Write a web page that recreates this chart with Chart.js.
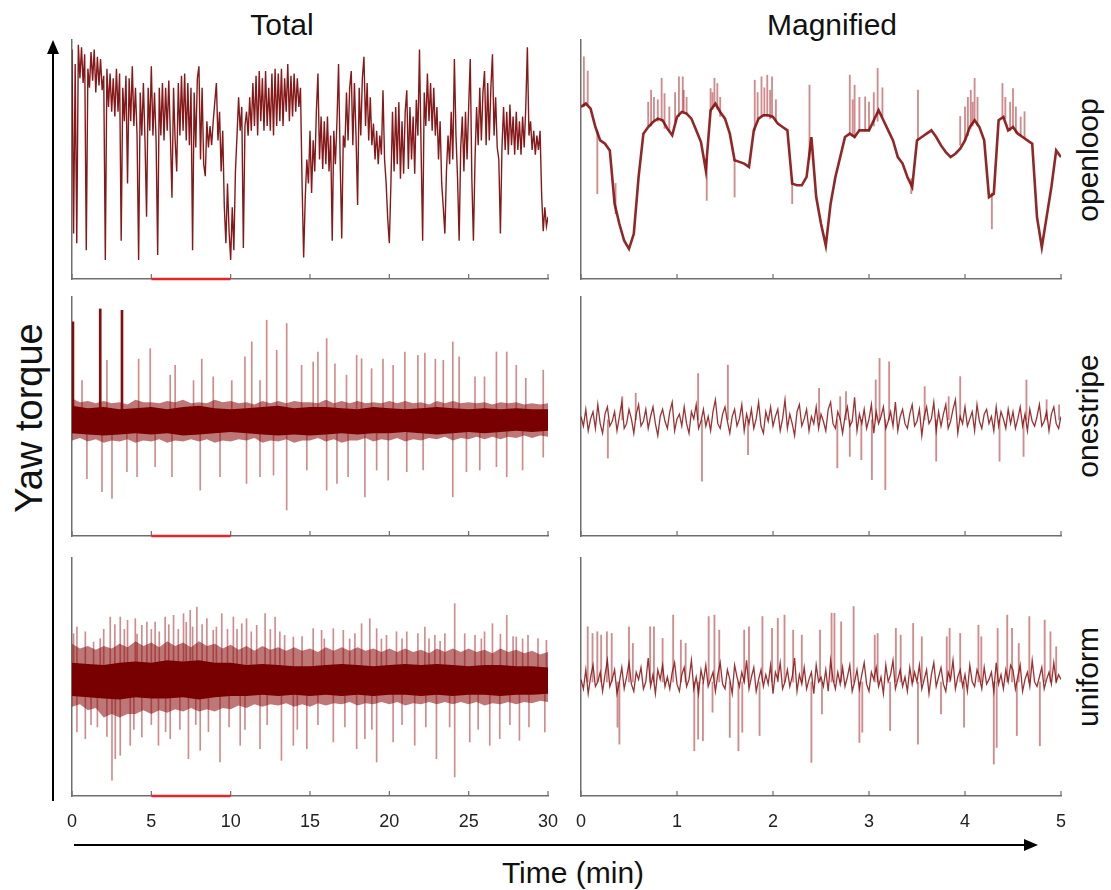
<!DOCTYPE html>
<html>
<head>
<meta charset="utf-8">
<script src="https://cdn.jsdelivr.net/npm/chart.js@4.4.1/dist/chart.umd.min.js"></script>
<style>
  body { margin: 0; background: #fff; font-family: 'Liberation Sans', Arial, sans-serif; }
  #page { position: relative; width: 1111px; height: 890px; overflow: hidden; background: #fff; }
  .lbl { position: absolute; color: #111; white-space: nowrap; line-height: 1; }
  .mid { transform: translate(-50%, -50%); }
  .rot { transform: translate(-50%, -50%) rotate(-90deg); }
</style>
</head>
<body>
<div id="page">
  <div class="lbl mid" style="left:282px;top:25px;font-size:30px">Total</div>
  <div class="lbl mid" style="left:832px;top:25px;font-size:30px">Magnified</div>
  <div class="lbl rot" style="left:1088px;top:160px;font-size:30px">openloop</div>
  <div class="lbl rot" style="left:1088px;top:416px;font-size:30px">onestripe</div>
  <div class="lbl rot" style="left:1088px;top:677px;font-size:30px">uniform</div>
  <div class="lbl rot" style="left:29px;top:418px;font-size:38px">Yaw torque</div>
  <div class="lbl mid" style="left:573px;top:873px;font-size:30px">Time (min)</div>
  <!-- axis arrows -->
  <div style="position:absolute;left:52px;top:52px;width:2px;height:749px;background:#000"></div>
  <div style="position:absolute;left:47px;top:40px;width:0;height:0;border-left:6px solid transparent;border-right:6px solid transparent;border-bottom:14px solid #000"></div>
  <div style="position:absolute;left:74px;top:844px;width:952px;height:2px;background:#000"></div>
  <div style="position:absolute;left:1024px;top:839px;width:0;height:0;border-top:6px solid transparent;border-bottom:6px solid transparent;border-left:14px solid #000"></div>
</div>
<script>
// ---- data (y in % of panel height, x in minutes) ----
const totalMax = 30, totalStep = 5;
const magMax = 5, magStep = 1;
const magnifiedWindow = [5, 10];

// openloop, total: samples every 0.1 min
const openTotalDt = 0.1;
const openTotalV = [
  96,19,90,15,98,84,97,82,94,12,
  88,80,95,83,96,78,93,81,92,79,
  85,8,88,72,86,70,84,68,88,70,
  86,16,80,66,85,40,84,66,89,64,
  80,60,8,78,60,82,58,26,80,62,
  89,60,78,58,10,80,60,82,58,80,
  62,83,60,34,80,58,45,82,60,85,
  62,86,58,82,56,80,12,78,55,84,
  89,50,80,48,43,66,55,64,56,66,
  74,82,58,70,45,62,30,15,40,20,
  8,30,12,45,60,76,62,72,13,64,
  70,60,76,62,82,64,85,60,87,66,
  84,62,87,64,80,62,86,60,88,64,
  86,66,88,64,84,70,90,66,85,68,
  86,70,84,72,80,40,9,34,50,40,
  62,36,58,45,70,86,50,68,46,66,
  48,68,45,60,16,62,48,66,90,50,
  17,60,55,78,58,80,87,56,82,60,
  31,80,60,84,93,64,82,58,76,56,
  65,50,62,48,60,52,79,50,40,25,
  15,40,70,45,72,48,74,42,66,44,
  70,79,46,72,50,68,44,75,60,96,
  55,16,78,64,86,66,82,62,80,60,
  72,50,66,40,30,19,45,60,48,70,
  50,92,60,42,16,55,68,45,70,50,
  72,92,42,16,50,72,56,80,58,78,
  87,56,82,58,80,94,60,76,55,50,
  19,55,72,54,70,52,73,56,68,52,
  70,54,66,52,68,55,72,97,60,66,
  54,62,52,60,54,62,35,20,30,22,
  26
];

// openloop, magnified: core trace every 0.05 min, spikes [t, lo, hi]
const openMagDt = 0.05;
const openMagV = [
  72,73.4,71.3,63.6,58,56.6,53.8,31.5,23,16,
  12.6,18.9,42.7,60.8,63.6,65.7,67.1,66.4,62.9,60.1,
  67.8,69.9,69.2,67.1,62.2,57.3,45.5,70.6,73.4,69.9,
  67.1,60.8,49.7,49,48.3,46.9,62.2,67.1,68.5,68.5,
  67.8,65,63.6,62.2,39.9,39.2,39.2,42.7,59.4,34.3,
  23.1,14,31.5,42.7,51,59.4,60.8,59.4,62.2,62.2,
  62.2,66.4,70.6,66.4,62.2,58,51,48.3,42.7,38.5,
  58,59.4,60.8,62.2,59.4,55.9,53.1,51,52.4,54.5,
  58,63.6,66.4,63.6,58,34.3,35.7,66.4,67.8,62.2,
  63.6,60.8,59.4,58,56.6,25.9,13.3,25.9,38.5,53.8,
  51
];
const openMagSpikes = [
  [0.03,72,93],[0.07,73,87],[0.73,64,79],[0.76,66,76],[0.84,66,84],[0.87,63,77.6],
  [1.02,68,84.6],[1.06,70,84.6],[1.07,70,79],[1.35,70,79.7],[1.39,72,84],[1.42,71,81.8],
  [1.81,62,83.2],[1.88,68,84.6],[1.94,68,85.3],[1.99,68,84.6],[2.38,50,81.1],[2.80,61,85.3],
  [2.85,59,81.1],[2.96,62,76.2],[3.09,66,88.1],[3.51,58,79],[4.03,60,76],[4.06,63,79],
  [4.10,66,84],[4.39,67,81.8],[4.50,63,79.7],[4.58,60,67.8],
  [0.70,64,74],[0.80,66,75],[0.92,62,72],[0.98,66,78],[1.10,69,76],[1.37,71,78],[1.45,68,76],
  [1.84,66,78],[1.91,68,80],[1.97,67,79],[2.03,66,75],[2.83,60,75],[2.90,62,76],[3.00,62,74],
  [3.05,64,78],[3.14,68,80],[3.95,56,68],[4.00,58,72],[4.08,64,74],[4.13,64,76],[4.42,67,76],
  [4.47,62,74],[4.53,61,72],[4.62,59,70],
  [0.17,35.7,62],[0.36,27.3,40],[1.31,32.9,50],[1.60,34.3,50],[2.20,31.5,42],[3.44,35.7,42],[4.28,21,36]
];

// onestripe, total: dark core edges every minute, fringe edges every 0.5 min, spikes [t, tip]
const osTotalBase = 48.5;
const osInnerHi = [54.5,53.5,54,53,53.5,54,53,54,54.5,53.5,53,53.5,54,54.5,53.5,54,54,53.5,53,54,53.5,53,53.5,54,53.5,53,53.5,53,53.5,53,53];
const osInnerLo = [43,42.5,42,42.5,43,42.5,43,42,42.5,43,43.5,43,42.5,42,42.5,42,42.5,43,42.5,43,43,43.5,43,42.5,43,43.5,43,43.5,44,43.5,44];
const osOuterHi = [57.5,56,56.5,55.5,56.5,55.5,56,55,57,56,56,55.5,56.5,56,57,55.5,56,55.5,57,56,56.5,55.5,56,55,56.5,55.5,56.5,55.5,56.5,56,
  56,55.5,57,55.5,56.5,55.5,56.5,55.5,56,55.5,56.5,55.5,56.5,55.5,56,55,56.5,55.5,56.5,55.5,56,55.5,56,55,56,55.5,56,55,55.5,55,55.5];
const osOuterLo = [40,41,39.5,40.5,39,40,39.5,40.5,39,40,39.5,40.5,39,40,39.5,40.5,39.5,40.5,39,40,39.5,40.5,40,41,39,40,39.5,40.5,39,40,
  40,41,39.5,40.5,39,40,40,41,39.5,40.5,40,41,39.5,40.5,40,41,40.5,41.5,40,41,40.5,41.5,40.5,41.5,40.5,41.5,41,42,41,42,41.5];
const osTotalStrong = [[0.06,89.6],[1.78,95],[3.15,94.4]];
const osTotalUp = [
  [0.63,65],[2.2,73.5],[4.2,74],[4.93,78.4],[6.19,67.3],[6.5,71.4],[7.66,65],[8.18,74],[8.9,66.6],
  [10.07,65],[10.9,75],[11.33,81.2],[11.85,65],[12.27,90.3],[12.9,77.7],[13.53,88.9],[14.47,71.4],
  [15.2,72.8],[15.5,77],[16.05,82.6],[16.57,72],[17.3,67.3],[17.94,75.6],[18.25,74.2],[18.88,70],
  [19.6,74],[20.24,71.4],[20.98,77],[21.8,75.6],[22.24,76.5],[22.9,74],[23.4,73.5],[24,81.2],
  [24.4,75],[25.4,66.6],[26,66.6],[26.75,77],[27.4,77],[28,71.4],[28.6,66],[29.7,69.4]
];
const osTotalDown = [
  [0.94,24],[1.89,18.5],[2.52,15.7],[3.46,26.9],[4.1,24.8],[5.24,29],[6.3,24.8],[8.08,19.2],
  [9.33,24.8],[11,22],[11.85,24.8],[12.7,25.5],[13.53,10.9],[14.8,27.6],[16.05,19.2],[16.7,22],
  [17.4,24.8],[18.46,16.4],[19.2,27.6],[19.93,23.4],[21.1,26.9],[22.13,27.6],[24,16.4],[24.86,26.9],
  [25.7,27.6],[26.75,29],[27.4,24.8],[28.4,27.6],[29.7,33]
];

// onestripe, magnified: trace every 0.025 min
const osMagDt = 0.025;
const osMagBase = 48.6;
const osMagV = [
  50,46,53,44,49,52,45,55,47,43, 51,54,46,48,52,44,50,56,45,47,
  53,49,43,51,55,46,48,53,45,50, 54,47,42,50,53,48,45,52,56,44,
  49,51,46,54,47,43,52,49,55,45, 48,53,46,50,44,52,57,47,45,51,
  54,48,43,50,53,46,49,55,44,51, 47,53,45,49,56,46,43,52,48,54,
  46,50,53,44,49,57,45,51,47,42, 52,55,46,49,53,44,50,47,54,45,
  51,48,44,53,56,47,45,52,49,43, 50,54,46,48,58,44,51,47,53,45,
  49,55,43,52,47,50,54,45,48,52, 46,56,44,50,53,47,45,51,55,46,
  48,53,42,50,54,47,49,56,44,52, 46,51,55,45,48,53,57,43,50,47,
  54,46,49,52,44,55,48,45,51,53, 47,50,44,54,46,52,49,45,53,47,
  52,45,49,54,46,51,44,53,48,46,
  50,55,46,48,52,44,51,54,47,45, 50
];
const osMagUp = [[0.43,58.3],[0.57,59.7],[1.22,68],[1.53,71.5],[2.48,61.8],[2.7,58.3],[2.76,60.4],[3.07,65.3],
  [3.11,74.3],[3.21,72.9],[3.58,62.5],[3.83,58.3],[3.95,66.7],[4.64,65.3],[4.85,57],[4.98,54.9]];
const osMagDown = [[0.28,32.6],[1.26,22.9],[1.74,34],[2.67,28.5],[2.8,33.3],[2.92,31.9],[3.03,23.6],
  [3.17,19.4],[3.7,31.3],[4.36,31.3],[4.61,33.3]];

// uniform, total
const ufTotalBase = 48.5;
const ufInnerHi = [56,55.5,55,56,56.5,56,57,56.5,57,56,56,55,55.5,55,54.5,54.5,55,55.5,55,54.5,55,55.5,55,55.5,55,54.5,55,55,54.5,54.5,54];
const ufInnerLo = [42,41.5,41,40.5,41.5,41,41,41.5,40.5,41.5,42,42,42.5,42,42.5,42,42.5,42,42.5,42,42.5,42.5,42,42.5,42,42.5,42.5,42,42.5,42.5,43];
const ufOuterHi = [64,62,63,61.5,63,62,64,62.5,65,63,64.5,62.5,65,63,64.5,62.5,65,63,64,62,63.5,61.5,63,61,63,61.5,62.5,61,62.5,61,
  62,60.5,62.5,61,62.5,61,62.5,61,62,60.5,62,60.5,62,60.5,61.5,60,62,60.5,62,60.5,62,60.5,61.5,60,62,60.5,61.5,60,61,59.5,60.5];
const ufOuterLo = [37.5,38.5,36,37,33,34.5,33,34.5,34.5,36,34.5,36,35,36.5,35.5,37,35.5,36.5,35.5,37,36.5,38,37,38.5,37.5,38.5,38,39,37.5,38.5,
  37.5,39,38,39,38.5,39.5,38,39,38.5,39.5,38.5,39.5,38,39,38.5,39.5,38.5,39.5,38.5,39.5,38.5,39.5,38,39,38.5,39.5,38.5,39.5,39,40,39.5];
const ufTotalUp = [
  [0.1,68.2],[0.31,71],[0.84,69],[1.36,64.7],[1.78,66.1],[2.0,70],[2.41,75.2],[2.7,72],[3.04,75.2],
  [3.3,70],[3.5,73.8],[3.99,74.5],[4.1,68],[4.4,71.7],[4.72,73.1],[5.0,70],[5.24,73.1],[5.5,69],
  [5.87,75.2],[6.1,72],[6.4,75.9],[6.7,70],[7.03,76.6],[7.2,73],[7.45,78],[7.6,71],[7.87,79.4],
  [8.2,72],[8.5,74.5],[8.9,69.6],[9.1,71],[9.44,76.6],[9.8,70],[10.17,75.2],[10.4,70],[10.7,72.4],
  [11,74.5],[11.3,69],[11.64,71.7],[12.17,76.6],[12.5,70],[12.8,75.2],[13.1,69],[13.4,67.5],
  [13.95,66.8],[14.5,67],[15.2,70.3],[15.73,69.6],[15.9,66],[16.47,70.3],[17.1,69.6],[17.5,66],
  [17.83,68.2],[18.25,72.4],[18.77,74.5],[19.2,70.3],[19.5,66],[19.82,67.5],[20.45,69],[20.8,66],
  [21.1,69],[21.8,68.2],[22.24,71],[22.5,66],[22.87,67.5],[23.2,65],[23.5,68.2],[24.12,80.8],
  [24.75,68.2],[25.4,67.5],[25.8,66],[26,69],[26.5,72.4],[27,68],[27.4,75.9],[27.8,67],[28,66.8],
  [28.4,66],[28.74,67.5],[29.37,66.1],[29.9,65.4]
];
const ufTotalDown = [
  [0.31,26.9],[0.84,24.1],[1.2,30],[1.6,29],[2.2,25],[2.52,6.6],[2.73,15.7],[3.04,17.1],[3.67,21.3],
  [3.9,28],[4.4,24.8],[5.0,30],[5.45,21.3],[5.9,27],[6.19,24.1],[6.8,28],[7.34,15.7],[7.8,30],
  [8.08,19.2],[8.6,27],[9.33,14.3],[9.9,29],[10.6,21.3],[10.9,28],[11.85,19.9],[12.3,30],[13.2,15],
  [13.95,21.3],[14.2,28],[14.8,19.9],[15.5,30],[16.47,22.7],[17.2,29],[17.94,19.9],[18.46,24.1],
  [18.9,28],[19.2,14.3],[20.24,22.7],[20.8,30],[21.6,21.3],[22.3,29],[22.97,15.7],[23.8,29],
  [24.12,8],[25.07,22.7],[25.6,28],[26.33,21.3],[26.96,24.1],[27.6,30],[28.2,23.4],[28.8,29],[29.8,26.9]
];

// uniform, magnified: trace every 0.025 min
const ufMagDt = 0.025;
const ufMagBase = 47.9;
const ufMagV = [
  49,45,53,43,50,55,46,48,52,44, 51,57,46,49,53,43,48,54,45,50,
  56,47,44,52,49,54,45,48,58,46, 51,43,53,49,55,46,50,45,52,56,
  47,44,51,54,46,49,57,45,50,43, 53,48,55,46,49,52,44,51,56,47,
  45,53,49,43,55,50,46,52,48,57, 45,50,54,44,49,53,46,51,47,55,
  43,52,49,56,45,48,53,46,50,58, 44,51,47,54,45,49,52,43,55,48,
  50,46,53,44,57,49,45,52,47,54, 46,50,55,44,48,53,45,51,56,47,
  44,52,49,54,46,50,43,55,48,51, 57,45,49,53,46,50,44,54,47,52,
  48,55,45,49,53,43,51,56,46,50, 54,47,44,52,49,57,45,50,53,46,
  51,44,55,48,46,53,50,45,54,47, 49,52,44,56,47,51,45,53,48,55,
  53,45,50,55,44,49,52,46,57,48,
  46,50,54,45,49,52,47,56,48,51, 49
];
const ufMagUp = [
  [0.07,71.1],[0.12,68.3],[0.17,69],[0.21,67.6],[0.27,69],[0.32,68.3],[0.5,71.1],[0.54,64.1],
  [0.72,71.1],[0.76,71.1],[0.85,66.2],[0.96,76],[1.04,65.5],[1.09,64.1],[1.33,75.4],[1.39,76],
  [1.44,69.7],[1.7,69.7],[1.75,71.1],[1.89,75.4],[1.99,70.4],[2.05,74.6],[2.12,76],[2.21,69.7],
  [2.3,67.6],[2.49,69.7],[2.61,76.8],[2.64,76.8],[2.71,73.2],[2.84,79.6],[3.06,67.6],[3.09,68.3],
  [3.28,70.4],[3.33,67.6],[3.46,72.5],[3.55,66.9],[3.81,66.9],[3.84,70.4],[3.95,68.3],[4.14,71.8],
  [4.17,66.9],[4.34,70.4],[4.44,76],[4.49,70.4],[4.56,64.1],[4.67,75.4],[4.83,73.9],[4.89,69],[4.95,62.7]
];
const ufMagDown = [
  [0.38,28.9],[0.4,21.8],[1.18,19],[1.22,23.9],[1.27,23.2],[1.37,35.2],[1.55,24.6],[1.64,19],
  [1.68,26.8],[1.86,25.4],[2.4,14.1],[2.51,34.5],[2.9,22.5],[2.93,26.8],[3.22,27.5],[3.51,21.8],
  [3.75,34.5],[3.99,28.9],[4.3,13.4],[4.33,20.4],[4.54,25.4],[4.78,21.1]
];

// ---- drawing ----
const DARK = '#780000';
const TRACE = 'rgba(120,0,0,0.9)';
const FRINGE = 'rgba(135,8,8,0.55)';
const SPIKE = 'rgba(170,45,45,0.55)';
const MAGTRACE = 'rgba(135,15,15,0.85)';
const AXIS = '#6e6e6e';

const series = (vals, dt) => vals.map((v, i) => ({ x: i * dt, y: v }));
const spikeBars = (list, base) => list.map(s => ({ x: s[0], y: [Math.min(base, s[1]), Math.max(base, s[1])] }));
const rangeBars = list => list.map(s => ({ x: s[0], y: [s[1], s[2]] }));

function traceSet(data, color, width, order) {
  return { type: 'line', data, borderColor: color, borderWidth: width, pointRadius: 0, tension: 0, fill: false, order };
}
function bandSets(hi, lo, dt, color, order) {
  return [
    { type: 'line', data: series(hi, dt), borderWidth: 0, pointRadius: 0, fill: '+1', backgroundColor: color, order },
    { type: 'line', data: series(lo, dt), borderWidth: 0, pointRadius: 0, fill: false, order }
  ];
}
function barSet(data, color, thick, order) {
  return { type: 'bar', data, backgroundColor: color, borderWidth: 0, barThickness: thick, grouped: false, order };
}

const axisDeco = {
  id: 'axisDeco',
  afterDraw(chart, args, opts) {
    const { ctx, chartArea, scales: { x } } = chart;
    ctx.save();
    ctx.strokeStyle = AXIS;
    ctx.lineWidth = 1.2;
    x.ticks.forEach(t => {
      const px = x.getPixelForValue(t.value);
      ctx.beginPath();
      ctx.moveTo(px, chartArea.bottom);
      ctx.lineTo(px, chartArea.bottom - 5);
      ctx.stroke();
    });
    if (opts.window) {
      ctx.strokeStyle = '#e3262c';
      ctx.lineWidth = 2.5;
      ctx.beginPath();
      ctx.moveTo(x.getPixelForValue(opts.window[0]), chartArea.bottom);
      ctx.lineTo(x.getPixelForValue(opts.window[1]), chartArea.bottom);
      ctx.stroke();
    }
    ctx.restore();
  }
};

const page = document.getElementById('page');
function panel(box, xMax, step, showLabels, datasets, win) {
  const hx = showLabels ? 44 : 14;
  const w = box.r - box.l + 24, h = box.b - box.t + 2 + hx;
  const cv = document.createElement('canvas');
  cv.width = w; cv.height = h;
  cv.style.cssText = `position:absolute;left:${box.l - 12}px;top:${box.t - 2}px;width:${w}px;height:${h}px`;
  page.appendChild(cv);
  return new Chart(cv, {
    type: 'line',
    data: { datasets },
    options: {
      responsive: false,
      animation: false,
      events: [],
      layout: { padding: { left: 10, right: 12, top: 2, bottom: 0 } },
      plugins: { legend: { display: false }, tooltip: { enabled: false }, axisDeco: { window: win } },
      scales: {
        x: {
          type: 'linear', min: 0, max: xMax, offset: false,
          ticks: { stepSize: step, display: showLabels, autoSkip: false, maxRotation: 0, padding: 15,
                   color: '#222', font: { size: 18, family: "'Liberation Sans', Arial, sans-serif" },
                   callback: v => String(v) },
          grid: { display: false, drawTicks: false },
          border: { display: true, color: AXIS, width: 1.5 },
          afterFit: s => { s.height = hx; s.paddingLeft = 0; s.paddingRight = 0; }
        },
        y: {
          min: 0, max: 100,
          ticks: { display: false },
          grid: { display: false, drawTicks: false },
          border: { display: true, color: AXIS, width: 1.5 },
          afterFit: s => { s.width = 2; }
        }
      }
    },
    plugins: [axisDeco]
  });
}

const L = { l: 72, r: 548 }, R = { l: 581, r: 1061 };
const rows = [{ t: 40, b: 279 }, { t: 297, b: 536 }, { t: 558, b: 796 }];
const box = (c, r) => ({ l: c.l, r: c.r, t: r.t, b: r.b });

// openloop
panel(box(L, rows[0]), totalMax, totalStep, false, [
  traceSet(series(openTotalV, openTotalDt), TRACE, 1.4, 0)
], magnifiedWindow);
panel(box(R, rows[0]), magMax, magStep, false, [
  traceSet(series(openMagV, openMagDt), 'rgba(130,10,10,0.88)', 2.6, 0),
  barSet(rangeBars(openMagSpikes), SPIKE, 1.2, 3)
], null);

// onestripe
panel(box(L, rows[1]), totalMax, totalStep, false, [
  ...bandSets(osInnerHi, osInnerLo, 1, DARK, 0),
  ...bandSets(osOuterHi, osOuterLo, 0.5, FRINGE, 1),
  barSet(spikeBars(osTotalStrong, osTotalBase), 'rgba(125,0,0,0.95)', 2, 2),
  barSet(spikeBars(osTotalUp, osTotalBase), SPIKE, 1, 3),
  barSet(spikeBars(osTotalDown, osTotalBase), SPIKE, 1, 3)
], magnifiedWindow);
panel(box(R, rows[1]), magMax, magStep, false, [
  traceSet(series(osMagV, osMagDt), MAGTRACE, 1.3, 0),
  barSet(spikeBars(osMagUp, osMagBase), SPIKE, 1.2, 3),
  barSet(spikeBars(osMagDown, osMagBase), SPIKE, 1.2, 3)
], null);

// uniform
panel(box(L, rows[2]), totalMax, totalStep, true, [
  ...bandSets(ufInnerHi, ufInnerLo, 1, DARK, 0),
  ...bandSets(ufOuterHi, ufOuterLo, 0.5, FRINGE, 1),
  barSet(spikeBars(ufTotalUp, ufTotalBase), SPIKE, 1, 3),
  barSet(spikeBars(ufTotalDown, ufTotalBase), SPIKE, 1, 3)
], magnifiedWindow);
panel(box(R, rows[2]), magMax, magStep, true, [
  traceSet(series(ufMagV, ufMagDt), MAGTRACE, 1.3, 0),
  barSet(spikeBars(ufMagUp, ufMagBase), SPIKE, 1.2, 3),
  barSet(spikeBars(ufMagDown, ufMagBase), SPIKE, 1.2, 3)
], null);
</script>
</body>
</html>
